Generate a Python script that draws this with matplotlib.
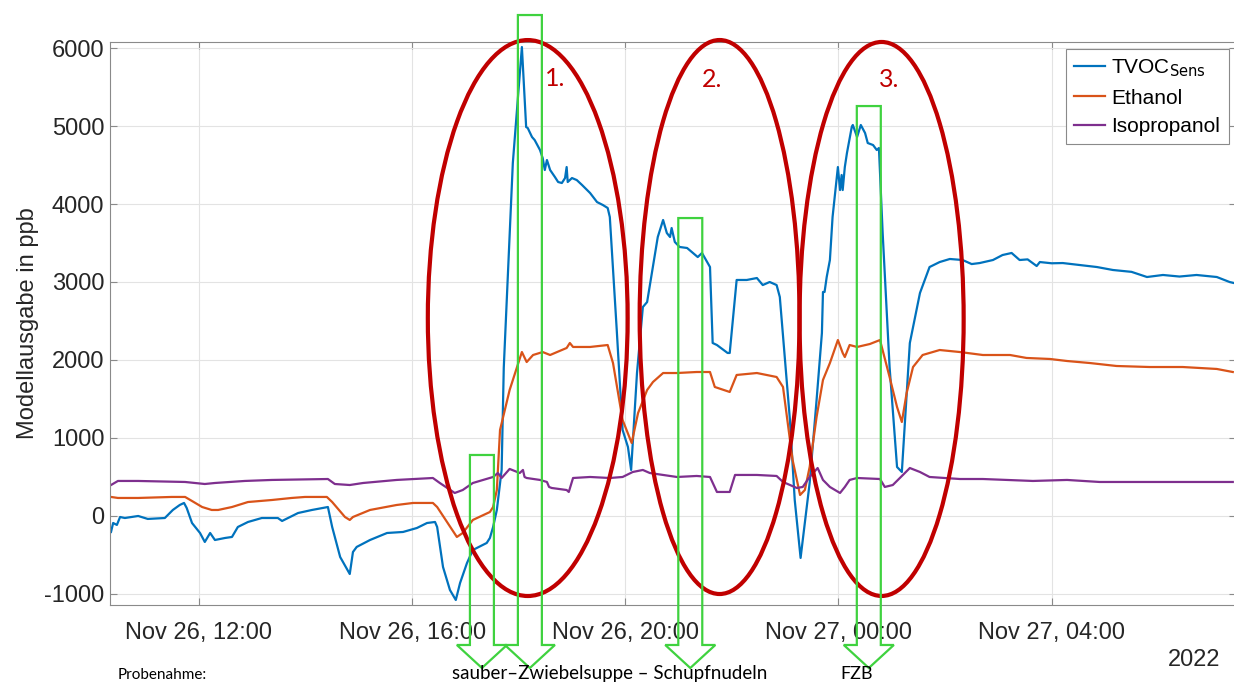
import matplotlib
matplotlib.use('Agg')
import matplotlib.pyplot as plt
import matplotlib.dates as mdates
from matplotlib.patches import Ellipse, Polygon
import numpy as np
import pandas as pd

# hours since 2022-11-26 00:00 and model output in ppb
tvoc_h = [10.35, 10.39, 10.46, 10.52, 10.61, 10.86, 11.04, 11.36, 11.51, 11.64, 11.72, 11.77, 11.87,
          12.02, 12.11, 12.21, 12.30, 12.49, 12.62, 12.73, 12.92, 13.18, 13.48, 13.56, 13.86, 14.12,
          14.42, 14.50, 14.65, 14.83, 14.89, 14.96, 15.21, 15.53, 15.83, 16.09, 16.28, 16.43, 16.47,
          16.58, 16.71, 16.82, 16.90, 17.03, 17.14, 17.40, 17.46, 17.52, 17.59, 17.68, 17.72, 17.89,
          18.06, 18.14, 18.17, 18.25, 18.30, 18.40, 18.45, 18.49, 18.53, 18.59, 18.68, 18.74, 18.81,
          18.87, 18.90, 18.92, 19.00, 19.09, 19.19, 19.34, 19.47, 19.58, 19.67, 19.71, 19.84, 19.95,
          20.05, 20.11, 20.22, 20.33, 20.41, 20.50, 20.61, 20.71, 20.78, 20.84, 20.87, 20.93, 21.02,
          21.16, 21.27, 21.36, 21.44, 21.59, 21.64, 21.72, 21.92, 21.96, 22.09, 22.28, 22.47, 22.58,
          22.71, 22.84, 22.90, 23.09, 23.18, 23.29, 23.46, 23.59, 23.69, 23.71, 23.74, 23.78, 23.84,
          23.89, 23.97, 23.99, 24.03, 24.06, 24.08, 24.12, 24.16, 24.25, 24.27, 24.35, 24.42, 24.50,
          24.55, 24.65, 24.72, 24.76, 24.83, 24.96, 25.10, 25.19, 25.34, 25.53, 25.71, 25.90, 26.09,
          26.33, 26.50, 26.65, 26.90, 27.08, 27.25, 27.40, 27.55, 27.72, 27.78, 28.00, 28.21, 28.50,
          28.85, 29.15, 29.50, 29.79, 30.09, 30.40, 30.72, 31.10, 31.34, 31.42]
tvoc_v = [-205, -90, -115, -13, -26, 0, -38, -26, 77, 141, 167, 103, -90,
          -218, -333, -218, -308, -282, -269, -141, -77, -26, -26, -64, 38, 77,
          115, -141, -526, -744, -462, -397, -308, -218, -205, -154, -90, -77, -141,
          -654, -949, -1077, -859, -603, -436, -346, -282, -141, 77, 590, 1900, 4525,
          6013, 4987, 4974, 4859, 4820, 4692, 4590, 4436, 4564, 4436, 4346, 4282, 4269,
          4333, 4474, 4282, 4333, 4307, 4243, 4141, 4025, 3987, 3949, 3833, 2385, 1103,
          885, 590, 1833, 2679, 2743, 3115, 3577, 3795, 3628, 3577, 3692, 3513, 3449,
          3436, 3372, 3320, 3372, 3192, 2218, 2192, 2090, 2090, 3026, 3026, 3051, 2961,
          3000, 2961, 2808, 1231, 205, -538, 423, 1487, 2346, 2872, 2872, 3064, 3282,
          3833, 4346, 4474, 4179, 4372, 4179, 4474, 4654, 4987, 5013, 4859, 5013, 4910,
          4782, 4756, 4692, 4718, 3628, 1910, 628, 564, 2218, 2859, 3192, 3256, 3295,
          3282, 3230, 3243, 3282, 3346, 3372, 3282, 3290, 3205, 3256, 3240, 3243, 3220,
          3192, 3154, 3130, 3064, 3090, 3070, 3090, 3064, 3000, 2987]

eth_h = [10.35, 10.48, 10.86, 11.49, 11.74, 11.87, 12.06, 12.24, 12.36, 12.62, 12.92, 13.37, 13.74,
         13.99, 14.40, 14.50, 14.74, 14.83, 14.89, 15.21, 15.71, 16.02, 16.39, 16.47, 16.84, 16.95,
         17.14, 17.46, 17.52, 17.59, 17.65, 17.83, 18.06, 18.15, 18.27, 18.45, 18.59, 18.72, 18.90,
         18.96, 19.02, 19.34, 19.67, 19.77, 19.95, 20.12, 20.24, 20.41, 20.52, 20.71, 20.97, 21.34,
         21.59, 21.68, 21.96, 22.09, 22.47, 22.84, 22.96, 23.14, 23.28, 23.37, 23.46, 23.59, 23.71,
         23.84, 23.99, 24.08, 24.12, 24.21, 24.35, 24.59, 24.78, 24.96, 25.10, 25.19, 25.28, 25.40,
         25.58, 25.90, 26.28, 26.71, 27.22, 27.53, 27.97, 28.29, 28.72, 29.22, 29.84, 30.46, 31.10,
         31.40]
eth_v = [244, 231, 231, 244, 244, 192, 115, 77, 77, 115, 179, 205, 231,
         244, 244, 179, -13, -51, -13, 77, 141, 167, 167, 115, -269, -218,
         -51, 51, 115, 333, 1103, 1615, 2102, 1974, 2064, 2102, 2064, 2102, 2154,
         2218, 2167, 2167, 2192, 1961, 1231, 936, 1320, 1615, 1718, 1833, 1833, 1846,
         1846, 1654, 1590, 1808, 1833, 1782, 1654, 718, 269, 333, 628, 1269, 1744,
         1961, 2256, 2090, 2038, 2192, 2167, 2205, 2256, 1782, 1397, 1205, 1577, 1910,
         2064, 2128, 2102, 2064, 2064, 2026, 2013, 1987, 1961, 1923, 1910, 1910, 1885,
         1846]

iso_h = [10.35, 10.48, 10.86, 11.74, 12.11, 12.30, 12.86, 13.37, 14.42, 14.55, 14.83, 15.08, 15.71,
         16.39, 16.52, 16.80, 16.95, 17.14, 17.52, 17.61, 17.68, 17.83, 18.02, 18.08, 18.11, 18.15,
         18.40, 18.53, 18.57, 18.62, 18.90, 18.94, 19.02, 19.34, 19.71, 19.95, 20.14, 20.33, 20.46,
         20.71, 20.97, 21.34, 21.59, 21.72, 21.96, 22.06, 22.47, 22.84, 22.96, 23.22, 23.33, 23.46,
         23.61, 23.71, 23.84, 24.03, 24.12, 24.21, 24.35, 24.78, 24.87, 25.02, 25.21, 25.34, 25.53,
         25.71, 26.28, 26.71, 27.65, 28.29, 28.90, 29.84, 31.40]
iso_v = [397, 449, 449, 436, 410, 423, 449, 462, 474, 410, 397, 423, 462,
         487, 423, 295, 333, 423, 500, 551, 487, 603, 551, 590, 500, 487,
         462, 436, 372, 359, 333, 308, 487, 500, 487, 500, 564, 590, 551,
         526, 500, 513, 500, 308, 308, 526, 526, 513, 436, 359, 372, 500,
         615, 462, 372, 295, 372, 462, 487, 474, 372, 397, 526, 615, 564,
         500, 474, 474, 449, 462, 436, 436, 436]

# annotations: sampling phases (time in h, ppb)
ellipse_x = [18.17, 21.77, 24.81]
ellipse_y = [2538, 2551, 2526]
ellipse_w = [3.75, 3.0, 3.08]
ellipse_ht = [7128, 7103, 7103]
phase_labels = ['1.', '2.', '3.']
phase_label_x = [18.68, 21.62, 24.95]
phase_label_y = [5615, 5590, 5590]

arrow_x = [17.31, 18.21, 21.22, 24.57]
arrow_top = [782, 6423, 3820, 5256]

base = pd.Timestamp('2022-11-26')
def to_time(h):
    return base + pd.to_timedelta(np.array(h), unit='h')

plt.rcParams['font.family'] = ['Liberation Sans', 'DejaVu Sans']
plt.rcParams['axes.unicode_minus'] = False

fig = plt.figure(figsize=(12.34, 6.91), dpi=100)
ax = fig.add_axes([0.0891, 0.1245, 0.9125, 0.8147])

ax.plot(to_time(tvoc_h), tvoc_v, color='#0072BD', lw=1.6, label=r'TVOC$_{\mathrm{Sens}}$')
ax.plot(to_time(eth_h), eth_v, color='#D95319', lw=1.6, label='Ethanol')
ax.plot(to_time(iso_h), iso_v, color='#7E2F8E', lw=1.6, label='Isopropanol')

ax.set_xlim(to_time([10.33])[0], to_time([31.46])[0])
ax.set_ylim(-1141, 6077)
ax.set_yticks(np.arange(-1000, 6001, 1000))
ax.xaxis.set_major_locator(mdates.HourLocator(byhour=range(0, 24, 4)))
ax.xaxis.set_major_formatter(mdates.DateFormatter('%b %d, %H:%M'))

ax.grid(True, color='#E3E3E3', lw=0.8)
for s in ax.spines.values():
    s.set_color('#8A8A8A')
    s.set_linewidth(0.8)
ax.tick_params(direction='in', length=5, color='#8A8A8A', labelsize=17,
               labelcolor='#262626', top=True, right=True)
ax.tick_params(axis='y', pad=4)
ax.tick_params(axis='x', pad=12)
ax.set_ylabel('Modellausgabe in ppb', fontsize=17, color='#262626', labelpad=4)

leg = ax.legend(loc='upper right', fontsize=15, frameon=True, fancybox=False,
                framealpha=1, edgecolor='#8A8A8A', handlelength=1.5, handletextpad=0.3,
                borderpad=0.4, labelspacing=0.45, borderaxespad=0.35)
leg.get_frame().set_linewidth(0.8)

fig.text(0.968, 0.045, '2022', fontsize=17, color='#262626', ha='center', va='center')

# red ellipses marking the phases
for cx, cy, w, h, in zip(ellipse_x, ellipse_y, ellipse_w, ellipse_ht):
    e = Ellipse((mdates.date2num(to_time([cx])[0]), cy), w / 24.0, h,
                fill=False, edgecolor='#C00000', lw=3, clip_on=False, zorder=5)
    ax.add_patch(e)
for lx, ly, t in zip(phase_label_x, phase_label_y, phase_labels):
    ax.text(to_time([lx])[0], ly, t, color='#C00000', fontsize=18, family='Lato',
            ha='center', va='center', zorder=6)

# green arrows for the sampling times
sw = 0.225 / 24.0
hw = 0.47 / 24.0
head_y = -1654
tip_y = -1949
for axx, top in zip(arrow_x, arrow_top):
    c = mdates.date2num(to_time([axx])[0])
    pts = [(c - sw, top), (c + sw, top), (c + sw, head_y), (c + hw, head_y),
           (c, tip_y), (c - hw, head_y), (c - sw, head_y)]
    ax.add_patch(Polygon(pts, closed=True, fill=False, edgecolor='#3FD23F',
                         lw=1.6, clip_on=False, zorder=6))

fig.text(0.0956, 0.013, 'Probenahme:', fontsize=11, family='Lato', va='bottom')
fig.text(0.366, 0.013, 'sauber–Zwiebelsuppe – Schupfnudeln', fontsize=13.5, family='Lato', va='bottom')
fig.text(0.681, 0.013, 'FZB', fontsize=13, family='Lato', va='bottom')

fig.savefig('out.png', dpi=100)
